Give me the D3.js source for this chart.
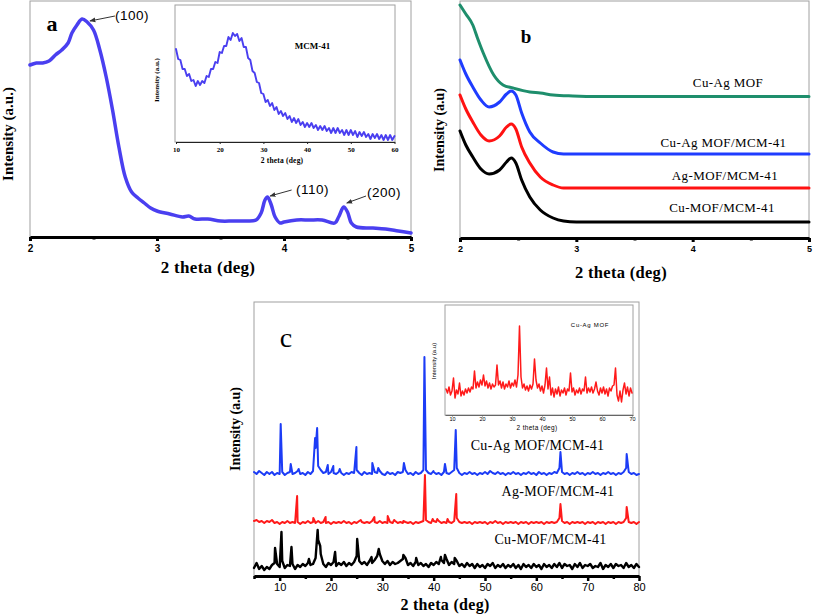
<!DOCTYPE html>
<html><head><meta charset="utf-8">
<script src="https://cdn.jsdelivr.net/npm/d3@7"></script>
<style>html,body{margin:0;padding:0;background:#fff}svg{display:block}</style>
</head><body>
<svg id="chart" width="813" height="614"></svg>
<script>
// ---------------- DATA ----------------
// Panel a : low-angle XRD of MCM-41
const aTheta = [2.0,2.05,2.1,2.15,2.2,2.25,2.3,2.33,2.37,2.41,2.45,2.5,2.55,2.6,2.65,2.7,2.75,2.8,2.85,2.9,2.95,3.0,3.1,3.2,3.25,3.3,3.4,3.5,3.6,3.7,3.78,3.82,3.85,3.87,3.9,3.93,3.97,4.0,4.1,4.2,4.3,4.4,4.43,4.47,4.5,4.53,4.57,4.7,4.8,4.9,5.0];
const aIntensity = [172,174,174,176,182,187,194,204,212,218,215,207,187,160,127,90,60,45,39,34,29,26,23,20,21,18,18,16,16,16,17,24,37,40,32,20,14,15,17,17,17,14,20,30,25,14,10,9,8,6,4];
const aTicks = [2,3,4,5];
const aMinor = [2.5,3.5,4.5];
const aPeakLabels = ["(100)","(110)","(200)"];
const aPeakTip = [[2.472,216],[3.89,41],[4.494,34]];
const aPeakTail = [[2.669,221],[4.06,47],[4.646,41]];
const aPeakText = [[2.803,222],[4.224,48],[4.787,45]];

// Panel a inset : wide-angle MCM-41 (2θ from 10 step 0.5)
const insetAStart = 10, insetAStep = 0.5;
const insetAIntensity = [93,83,82,73,73,66,68,61,62,56,61,57,61,59,66,65,73,73,80,79,90,89,96,96,105,102,109,106,108,101,104,95,95,84,82,71,69,60,59,49,48,40,42,36,39,32,35,28,31,26,29,23,26,20,24,19,23,17,20,15,19,15,19,14,17,12,16,12,16,11,14,9,14,9,14,9,12,7,12,7,12,7,11,5,10,6,10,5,8,3,8,4,8,3,7,2,7,2,7,2,6];
const insetATicks = [10,20,30,40,50,60];

// Panel b : low-angle XRD of the composites
const bGreenX = [2.0,2.05,2.11,2.15,2.2,2.29,2.37,2.455,2.6,2.69,2.8,2.97,3.2,4.0,5.0];
const bGreenY = [233,224,213,200,185,163,153,150,146,145,143,142,141.5,141.5,141.5];
const bBlueX = [2.0,2.05,2.11,2.18,2.25,2.34,2.4,2.44,2.48,2.53,2.6,2.69,2.8,2.89,3.0,4.0,5.0];
const bBlueY = [178,164,151,138,131,136,144,147,143,125,106,95,86,84,84,84,84];
const bRedX = [2.0,2.05,2.11,2.18,2.25,2.34,2.4,2.44,2.48,2.53,2.6,2.69,2.8,2.89,3.0,4.0,5.0];
const bRedY = [143,129,116,103,97,102,111,114,109,91,75,61,53,50,50,50,50];
const bBlackX = [2.0,2.05,2.11,2.18,2.25,2.34,2.4,2.44,2.48,2.53,2.6,2.69,2.8,2.89,3.0,4.0,5.0];
const bBlackY = [107,93,81,69,64,68,76,80,75,58,41,28,20,17,16,16,16];
const bLabels = ["Cu-Ag MOF","Cu-Ag MOF/MCM-41","Ag-MOF/MCM-41","Cu-MOF/MCM-41"];
const bLabelPos = [[4.304,156],[4.265,96],[4.278,63],[4.252,30.5]];
const bTicks = [2,3,4,5];
const bMinor = [2.5,3.5,4.5];

// Panel c : wide-angle XRD (grid from 5 step 0.5, plus sharp reflections)
const cStart = 5, cStep = 0.5;
const cBlackGrid = [8,13,7,10,6,9,7,11,13,12, 9,15,8,11,10,12,7,11,9,12, 10,13,11,12,18,36,22,12,9,13, 11,14,10,13,11,14,10,13,11,14, 20,15,12,14,11,15,13,16,20,22, 15,12,15,11,14,12,13,15,17,18, 11,13,10,14,11,13,10,12,9,13, 11,14,12,16,13,17,11,14,12,15, 10,12,9,13,10,12,8,12,9,11, 8,12,10,13,8,11,9,12,8,11, 9,12,8,11,7,12,9,11,8,12, 9,11,7,12,9,11,8,12,9,13, 8,12,10,11,7,12,9,13,8,11, 10,12,8,10,9,13,7,11,9,12, 8,12,10,11,8,13,9,11,8,12, 9];
const cBlackPeaks = [[9.1,28],[10.35,44],[12.3,29],[15.7,17],[17.4,46],[17.9,30],[20.8,24],[25.1,37],[27.9,19],[29.3,27],[34.1,21],[36.6,18],[41.4,19],[42.2,21],[44.1,18]];
const cRedGrid = [55,56,54,55,53,55,54,56,53,54, 52,54,53,55,53,54,53,54,52,54, 53,55,53,54,53,55,53,54,53,54, 52,54,53,54,53,55,53,54,52,54, 53,55,54,53,54,53,55,54,53,55, 53,54,53,54,53,55,53,54,53,54, 53,54,52,54,53,54,55,56,54,53, 55,54,55,53,54,53,54,53,55,58, 54,53,54,53,54,52,54,53,54,53, 54,52,54,53,55,53,54,52,54,53, 54,53,54,52,54,53,54,52,54,53, 54,53,54,52,54,53,54,53,54,58, 55,53,54,52,54,53,54,53,54,52, 54,53,54,52,54,53,54,52,54,53, 54,52,54,53,54,58,54,53,54,52, 54];
const cRedPeaks = [[13.4,80],[16.55,58],[18.95,59],[25.8,56],[28.45,59],[31.05,60],[32.3,56],[34.1,55],[38.3,101],[39.8,57],[40.7,57],[42.7,57],[44.4,82],[64.7,72],[77.6,69]];
const cBlueGrid = [104,102,105,103,101,104,102,104,101,103, 102,104,101,103,104,102,103,105,102,103, 101,104,102,105,128,110,106,103,104,102, 104,103,102,104,103,101,103,102,104,103, 106,103,101,104,102,103,102,104,103,105, 102,101,104,102,103,101,104,103,104,106, 102,103,101,104,102,103,106,106,103,102, 104,102,103,101,104,103,102,104,106,108, 103,101,103,102,104,102,103,101,103,102, 104,102,105,103,102,104,102,103,101,103, 102,104,102,103,101,103,102,104,102,103, 101,104,102,103,101,103,102,104,103,108, 104,102,103,101,103,102,104,102,103,101, 103,102,104,102,103,101,103,102,104,102, 103,101,103,102,104,108,104,102,103,101, 102];
const cBluePeaks = [[10.2,152],[12.15,112],[13.7,107],[16.9,138],[17.3,148],[19.37,111],[20.45,110],[21.7,107],[24.95,129],[28.05,113],[29.2,108],[34.2,113],[38.2,219],[39.95,105],[42.2,112],[44.3,146],[64.7,124],[77.6,122]];
const cLabels = ["Cu-Ag MOF/MCM-41","Ag-MOF/MCM-41","Cu-MOF/MCM-41"];
const cLabelPos = [[60.23,131],[64.22,84.3],[62.76,37]];
const cTicks = [10,20,30,40,50,60,70,80];
const cMinor = [5,15,25,35,45,55,65,75];

// Panel c inset : Cu-Ag MOF (grid from 8 step 0.5)
const insetCStart = 8, insetCStep = 0.5;
const insetCIntensity = [26,22,28,20,24,37,17,25,21,32, 19,24,20,26,22,27,23,28,26,44, 27,33,28,35,30,40,29,34,27,32, 26,31,28,30,50,30,34,27,33,26, 31,28,34,27,32,29,35,28,40,89, 38,27,31,25,29,24,30,26,31,56, 35,27,31,24,29,22,30,47,26,38, 20,27,18,26,21,28,19,25,22,27, 20,26,24,42,23,27,20,25,22,27, 21,26,24,38,22,27,23,28,22,26, 33,24,20,27,22,28,21,26,19,27, 24,29,30,47,20,14,24,13,25,32, 21,28,19,27,22];
const insetCTicks = [10,20,30,40,50,60,70];

// ---------------- DRAWING ----------------
const SERIF = "'Liberation Serif','Times New Roman',serif";
const SANS = "'Liberation Sans',Arial,sans-serif";
const svg = d3.select('#chart');
const FRAME = '#a0a0a0';

function frame(x, y) {
  const [x0, x1] = x.range(); const [y1, y0] = y.range();
  svg.append('rect').attr('x', x0).attr('y', y0).attr('width', x1 - x0).attr('height', y1 - y0)
    .attr('fill', 'none').attr('stroke', FRAME).attr('stroke-width', 1);
}
function bottomAxis(x, yPos, major, minor, o) {
  const g = svg.append('g').attr('transform', `translate(0,${yPos})`)
    .call(d3.axisBottom(x).tickValues(major).tickFormat(d3.format('d')).tickSize(o.majLen).tickSizeOuter(0).tickPadding(o.pad));
  g.select('.domain').attr('stroke', o.color).attr('stroke-width', o.lw);
  g.selectAll('.tick line').attr('stroke', o.color).attr('stroke-width', o.tw);
  g.selectAll('.tick text').attr('fill', '#000').style('font-family', o.font).style('font-size', o.fs + 'px').style('font-weight', o.fw);
  if (minor) {
    const m = svg.append('g').attr('transform', `translate(0,${yPos})`)
      .call(d3.axisBottom(x).tickValues(minor).tickFormat('').tickSize(o.minLen).tickSizeOuter(0));
    m.select('.domain').remove();
    m.selectAll('.tick line').attr('stroke', o.color).attr('stroke-width', o.tw);
  }
}
function text(str, x, y, o) {
  const t = svg.append('text').text(str)
    .attr('text-anchor', 'middle').attr('dominant-baseline', 'central')
    .style('font-family', o.font).style('font-size', o.fs + 'px').style('font-weight', o.fw || 'normal')
    .attr('fill', o.fill || '#000');
  if (o.ls) t.style('letter-spacing', o.ls + 'px');
  if (o.rot) t.attr('transform', `translate(${x},${y}) rotate(-90)`);
  else t.attr('x', x).attr('y', y);
  return t;
}
function path(data, x, y, color, w, curve) {
  const line = d3.line().x(d => x(d[0])).y(d => y(d[1]));
  if (curve) line.curve(curve);
  svg.append('path').datum(data).attr('d', line).attr('fill', 'none')
    .attr('stroke', color).attr('stroke-width', w).attr('stroke-linejoin', 'round').attr('stroke-linecap', 'round');
}
function gridSeries(start, step, vals, peaks) {
  const pts = vals.map((v, i) => [start + i * step, v]);
  (peaks || []).forEach(p => pts.push(p));
  pts.sort((a, b) => a[0] - b[0]);
  return pts;
}

// ===== Panel a =====
const ax = d3.scaleLinear().domain([2, 5]).range([30, 411]);
const ay = d3.scaleLinear().domain([0, 236]).range([237, 1]);
frame(ax, ay);
path(aTheta.map((t, i) => [t, aIntensity[i]]), ax, ay, '#4a3ff0', 3.5, d3.curveCatmullRom);
bottomAxis(ax, 237, aTicks, aMinor, {majLen: 4, minLen: 2.5, pad: 4, color: '#000', lw: 3, tw: 3, font: SANS, fs: 10, fw: 'bold'});
text('2 theta (deg)', 208, 267, {font: SERIF, fs: 17, fw: 'bold', ls: 0.3});
text('Intensity (a.u.)', 8, 134, {font: SERIF, fs: 15, fw: 'bold', rot: true});
text('a', 52, 23, {font: SERIF, fs: 22, fw: 'bold'});
// peak annotations
const defs = svg.append('defs');
defs.append('marker').attr('id', 'arr').attr('viewBox', '0 0 10 10').attr('refX', 9).attr('refY', 5)
  .attr('markerWidth', 6).attr('markerHeight', 6).attr('orient', 'auto')
  .append('path').attr('d', 'M0,1 L10,5 L0,9 z').attr('fill', '#333');
aPeakLabels.forEach((lab, i) => {
  svg.append('line').attr('x1', ax(aPeakTail[i][0])).attr('y1', ay(aPeakTail[i][1]))
    .attr('x2', ax(aPeakTip[i][0])).attr('y2', ay(aPeakTip[i][1]))
    .attr('stroke', '#333').attr('stroke-width', 1).attr('marker-end', 'url(#arr)');
  text(lab, ax(aPeakText[i][0]), ay(aPeakText[i][1]), {font: SANS, fs: 13.5, ls: 0.5});
});

// inset a
const iax = d3.scaleLinear().domain([10, 60]).range([176, 394.5]);
const iay = d3.scaleLinear().domain([0, 137]).range([142, 5]);
svg.append('rect').attr('x', 175).attr('y', 5).attr('width', 220).attr('height', 137)
  .attr('fill', '#fff').attr('stroke', FRAME).attr('stroke-width', 1);
path(gridSeries(insetAStart, insetAStep, insetAIntensity), iax, iay, '#4a3ff0', 1.9);
bottomAxis(iax, 142, insetATicks, null, {majLen: 2, minLen: 1, pad: 3, color: '#222', lw: 1, tw: 1, font: SERIF, fs: 7, fw: 'bold'});
text('2 theta (deg)', 282, 160, {font: SERIF, fs: 7.5, fw: 'bold', ls: 0.2});
text('Intensity (a.u.)', 157, 80, {font: SERIF, fs: 7, fw: 'bold', rot: true});
text('MCM-41', 312.5, 45.5, {font: SERIF, fs: 9, fw: 'bold'});

// ===== Panel b =====
const bx = d3.scaleLinear().domain([2, 5]).range([460, 809]);
const by = d3.scaleLinear().domain([0, 237]).range([238, 1]);
frame(bx, by);
const bSeries = [[bGreenX, bGreenY, '#1e8e6c'], [bBlueX, bBlueY, '#1f3cff'], [bRedX, bRedY, '#ff1212'], [bBlackX, bBlackY, '#000']];
bSeries.forEach(s => path(s[0].map((t, i) => [t, s[1][i]]), bx, by, s[2], 3, d3.curveMonotoneX));
bottomAxis(bx, 238, bTicks, bMinor, {majLen: 4, minLen: 2.5, pad: 4, color: '#000', lw: 3, tw: 3, font: SANS, fs: 9, fw: 'bold'});
bLabels.forEach((l, i) => text(l, bx(bLabelPos[i][0]), by(bLabelPos[i][1]), {font: SERIF, fs: 13, ls: 0.4}));
text('2 theta (deg)', 621, 272, {font: SERIF, fs: 16.5, fw: 'bold', ls: 0.3});
text('Intensity (a.u)', 439, 130, {font: SERIF, fs: 14, fw: 'bold', rot: true});
text('b', 526, 36, {font: SERIF, fs: 19, fw: 'bold'});

// ===== Panel c =====
const cx = d3.scaleLinear().domain([5, 80]).range([254, 639]);
const cy = d3.scaleLinear().domain([0, 274]).range([576, 302]);
frame(cx, cy);
path(gridSeries(cStart, cStep, cBlackGrid, cBlackPeaks), cx, cy, '#000', 2.4);
path(gridSeries(cStart, cStep, cBlueGrid, cBluePeaks), cx, cy, '#1c3cf6', 2);
path(gridSeries(cStart, cStep, cRedGrid, cRedPeaks), cx, cy, '#ff1a1a', 2);
bottomAxis(cx, 576, cTicks, cMinor, {majLen: 5, minLen: 3, pad: 2.5, color: '#000', lw: 3, tw: 2.5, font: SANS, fs: 11, fw: 'normal'});
cLabels.forEach((l, i) => text(l, cx(cLabelPos[i][0]), cy(cLabelPos[i][1]), {font: SERIF, fs: 14, ls: 0.3}));
text('2 theta (deg)', 445, 604, {font: SERIF, fs: 16, fw: 'bold', ls: 0.3});
text('Intensity (a.u)', 235, 429, {font: SERIF, fs: 14, fw: 'bold', rot: true});
text('c', 286, 337, {font: SERIF, fs: 28});

// inset c
const icx = d3.scaleLinear().domain([7.67, 70.33]).range([445, 633]);
const icy = d3.scaleLinear().domain([0, 110]).range([415, 305]);
svg.append('rect').attr('x', 445).attr('y', 305).attr('width', 188).attr('height', 110)
  .attr('fill', '#fff').attr('stroke', FRAME).attr('stroke-width', 1);
path(gridSeries(insetCStart, insetCStep, insetCIntensity), icx, icy, '#ff1a1a', 1.5);
bottomAxis(icx, 415, insetCTicks, null, {majLen: 1.5, minLen: 1, pad: 1, color: '#666', lw: 1, tw: 1, font: SANS, fs: 5.5, fw: 'normal'});
text('2 theta (deg)', 537, 427, {font: SANS, fs: 6.5, ls: 0.3});
text('Intensity (a.u)', 433.5, 361, {font: SANS, fs: 6, rot: true});
text('Cu-Ag MOF', 590, 325, {font: SANS, fs: 6, ls: 0.7});
</script>
</body></html>
